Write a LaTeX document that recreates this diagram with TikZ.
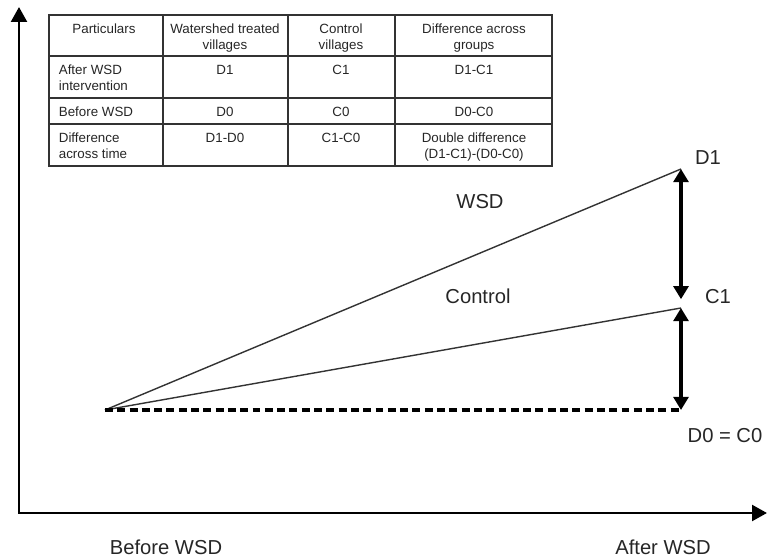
\documentclass[tikz,border=0pt]{standalone}
\usepackage{fontspec}
\setmainfont{Liberation Sans}
\usetikzlibrary{arrows.meta}

\tikzset{
  axisline/.style={black, line width=1.5pt, {Triangle[width=9pt,length=8.5pt]}-{Triangle[width=9pt,length=8.5pt]}},
  trend/.style={black!80, line width=0.8pt},
  gaparrow/.style={black, line width=2.4pt, {Triangle[width=8.5pt,length=7.5pt]}-{Triangle[width=8.5pt,length=7.5pt]}},
  tabline/.style={black!80, line width=0.8pt},
  cell/.style={anchor=north, align=center, inner sep=2pt, font=\fontsize{7.6}{9.1}\selectfont, text=black!85},
  rowlab/.style={cell, anchor=north west, align=left},
  biglabel/.style={font=\fontsize{11.5}{13}\selectfont, text=black!85}
}

\begin{document}
\begin{tikzpicture}[x=0.02cm, y=-0.02cm]
\useasboundingbox (0,0) rectangle (768,560);

% axes
\coordinate (ytop) at (19,7);
\coordinate (orig) at (19,513);
\coordinate (xend) at (767,513);
\draw[axisline] (ytop) -- (orig) -- (xend);

% table
\draw[tabline] (49,15) rectangle (552,166);
\foreach \x in {163,288,395}{
	\draw[tabline] (\x,15)--(\x,166);
}
\foreach \y in {56,98,124}{
	\draw[tabline] (49,\y)--(552,\y);
}
\node[cell] (hpart) at (104,20) {Particulars};
\node[cell] (hwsd) at (225,20) {Watershed treated\\villages};
\node[cell] (hctl) at (341,20) {Control\\villages};
\node[cell] (hgrp) at (474,20) {Difference across\\groups};

\node[rowlab] (rafter) at (55,61) {After WSD\\intervention};
\node[rowlab] (rbefore) at (55,103) {Before WSD};
\node[rowlab] (rtime) at (55,129) {Difference\\across time};

\node[cell] (cd1) at (225,61) {D1};
\node[cell] (cc1) at (341,61) {C1};
\node[cell] (cdc1) at (474,61) {D1-C1};
\node[cell] (cd0) at (225,103) {D0};
\node[cell] (cc0) at (341,103) {C0};
\node[cell] (cdc0) at (474,103) {D0-C0};
\node[cell] (cdd) at (225,129) {D1-D0};
\node[cell] (ccc) at (341,129) {C1-C0};
\node[cell] (cdouble) at (474,129) {Double difference\\(D1-C1)-(D0-C0)};

% trends
\coordinate (base) at (105,410);
\coordinate (d1) at (681,169);
\coordinate (c1) at (681,308);
\coordinate (d0) at (681,410);
\draw[trend] (base)--(d1);
\draw[trend] (base)--(c1);
\draw[black, line width=2pt, dash pattern=on 4.5pt off 2.5pt] (base)--(d0);
\draw[gaparrow, shorten >=5pt] (d1)--(c1);
\draw[gaparrow] (c1)--(d0);

% labels
\node[biglabel] (lwsd) at (480,202) {WSD};
\node[biglabel] (lctl) at (478,296) {Control};
\node[biglabel] (ld1) at (708,158) {D1};
\node[biglabel] (lc1) at (718,297) {C1};
\node[biglabel] (ld0) at (725,436) {D0 = C0};
\node[biglabel] (lbefore) at (166,547) {Before WSD};
\node[biglabel] (lafter) at (663,547) {After WSD};
\end{tikzpicture}
\end{document}
